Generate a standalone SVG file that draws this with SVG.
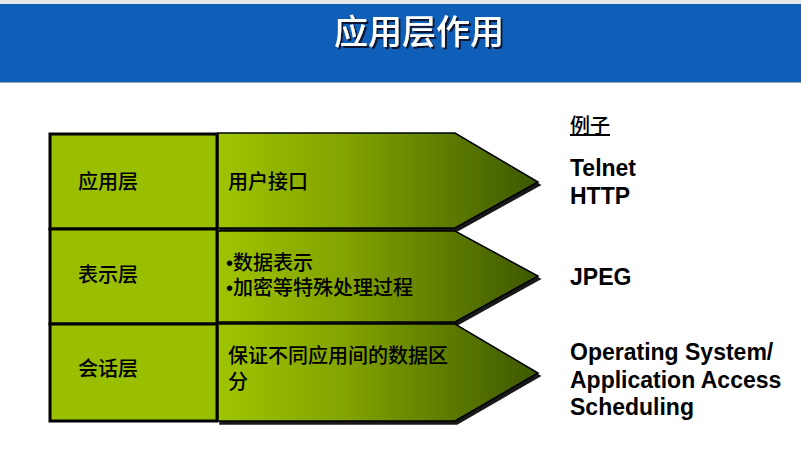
<svg xmlns="http://www.w3.org/2000/svg" width="801" height="462" viewBox="0 0 801 462">
  <defs>
    <linearGradient id="olive" x1="0" y1="0" x2="1" y2="0">
      <stop offset="0" stop-color="#9fc500"/>
      <stop offset="0.4" stop-color="#82a300"/>
      <stop offset="1" stop-color="#3d5800"/>
    </linearGradient>
    <filter id="drop" x="-5%" y="-5%" width="115%" height="120%">
      <feDropShadow dx="2" dy="3" stdDeviation="0.6" flood-color="#000" flood-opacity="0.9"/>
    </filter>
    <filter id="titleShadow" x="-5%" y="-20%" width="115%" height="150%">
      <feDropShadow dx="2" dy="2" stdDeviation="0.5" flood-color="#0a1830" flood-opacity="1"/>
    </filter>
  </defs>
  <style>
    .cell { fill: #99bf00; stroke: #000; stroke-width: 3; }
    .arrow { fill: url(#olive); stroke: #000; stroke-width: 1.5; filter: url(#drop); }
    .cn { font-family: "Liberation Sans", "Noto Sans CJK SC", sans-serif; font-size: 20px; font-weight: 500; fill: #000; }
    .ex { font-family: "Liberation Sans", Arial, sans-serif; font-size: 23px; font-weight: bold; fill: #000; }
    .title { font-family: "Noto Sans CJK SC", sans-serif; font-size: 34px; font-weight: 500; fill: #fff; filter: url(#titleShadow); }
  </style>

  <!-- header band -->
  <rect x="0" y="0" width="801" height="4" fill="#e8e8e8"/>
  <rect x="0" y="4" width="801" height="78" fill="#0f5fb9"/>
  <rect x="0" y="82" width="801" height="1" fill="#9aa7b8"/>
  <g id="title">
    <text class="title" x="419" y="44" text-anchor="middle">应用层作用</text>
  </g>

  <!-- layer name cells -->
  <g id="layer-app">
    <rect class="cell" x="50" y="134" width="167" height="95"/>
    <text class="cn" x="78" y="189">应用层</text>
  </g>
  <g id="layer-pres">
    <rect class="cell" x="50" y="229" width="167" height="95"/>
    <text class="cn" x="78" y="282">表示层</text>
  </g>
  <g id="layer-sess">
    <rect class="cell" x="50" y="324" width="167" height="97"/>
    <text class="cn" x="78" y="376">会话层</text>
  </g>

  <!-- function arrows -->
  <g id="func-app">
    <polygon class="arrow" points="218,133 455,133 538,182 455,228 218,228"/>
    <text class="cn" x="228" y="189">用户接口</text>
  </g>
  <g id="func-pres">
    <polygon class="arrow" points="218,231 455,231 538,276 455,322 218,322"/>
    <text class="cn" x="226" y="270">•数据表示</text>
    <text class="cn" x="226" y="295">•加密等特殊处理过程</text>
  </g>
  <g id="func-sess">
    <polygon class="arrow" points="218,324 455,324 538,373 455,421 218,421"/>
    <text class="cn" x="228" y="363">保证不同应用间的数据区</text>
    <text class="cn" x="228" y="389">分</text>
  </g>

  <!-- examples column -->
  <g id="examples">
    <text class="cn" x="570" y="133" text-decoration="underline">例子</text>
    <text class="ex" x="570" y="176">Telnet</text>
    <text class="ex" x="570" y="204">HTTP</text>
    <text class="ex" x="570" y="285">JPEG</text>
    <text class="ex" x="570" y="360">Operating System/</text>
    <text class="ex" x="570" y="388">Application Access</text>
    <text class="ex" x="570" y="415">Scheduling</text>
  </g>
</svg>
